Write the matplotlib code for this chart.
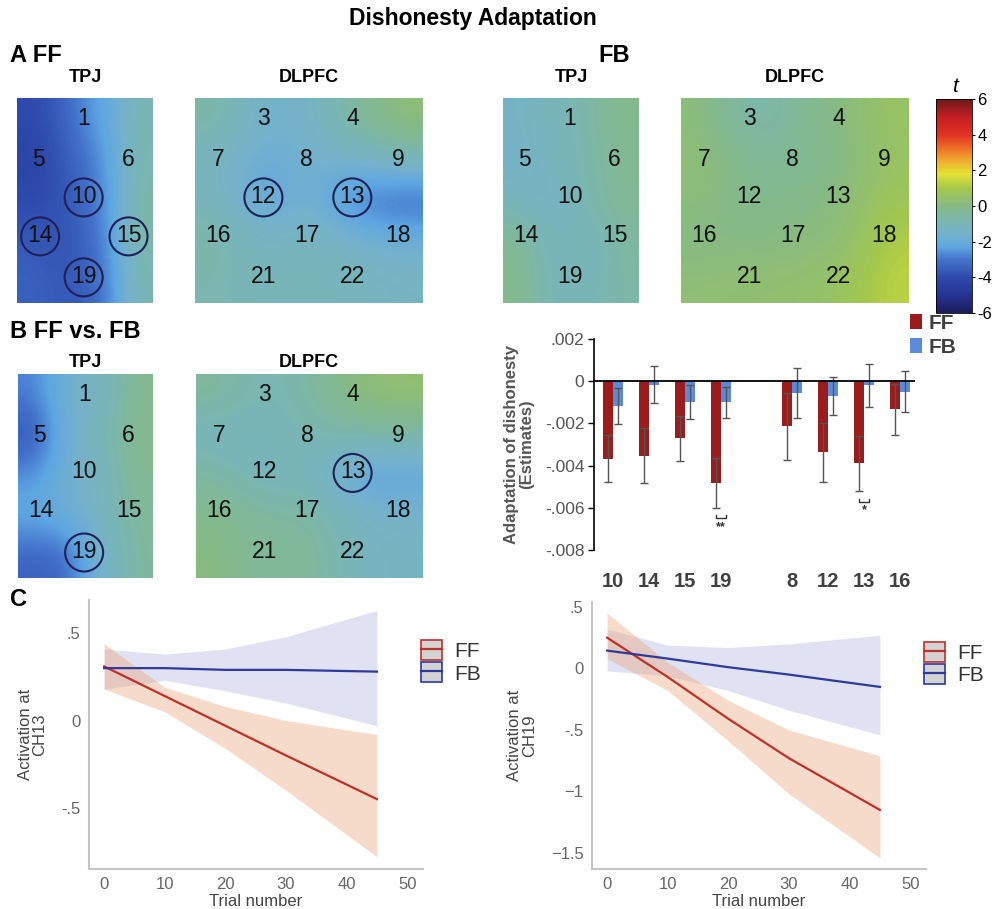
import numpy as np
import matplotlib
matplotlib.use("Agg")
import matplotlib.pyplot as plt
import matplotlib.colors as colors
from matplotlib.patches import Ellipse, Patch
from matplotlib.lines import Line2D

plt.rcParams['font.family'] = ['Liberation Sans', 'DejaVu Sans']

W, H = 994, 909

# t-maps, 5x5 grids (rows top->bottom, cols left->right)
ff_tpj = [[-4.0, -3.6, -2.6, -2.0, -0.9],
          [-4.3, -3.8, -3.1, -2.2, -0.8],
          [-4.0, -3.8, -3.3, -2.3, -0.6],
          [-3.6, -3.8, -3.4, -2.4, -0.6],
          [-3.4, -3.6, -3.6, -2.6, -0.9]]
ff_dlpfc = [[-0.6, -1.6, -1.5, -0.4, 0.3],
            [-1.2, -2.0, -1.6, -1.5, -0.9],
            [-1.0, -2.4, -1.5, -3.0, -3.4],
            [-0.6, -1.3, -1.0, -1.5, -1.7],
            [-0.8, -1.1, -1.0, -1.1, -1.3]]
fb_tpj = [[-1.4, -1.1, -0.9, -0.5, -0.1],
          [-1.5, -1.2, -1.0, -0.6, -0.2],
          [-1.1, -1.5, -1.1, -0.6, -0.3],
          [-0.2, -0.9, -1.1, -1.1, -0.5],
          [-0.1, -0.8, -1.1, -0.9, -0.6]]
fb_dlpfc = [[0.2, -0.9, -0.4, 0.1, 0.6],
            [0.3, -0.3, -0.3, -0.1, 0.6],
            [0.2, -0.2, -0.1, 0.1, 0.8],
            [0.0, 0.0, 0.1, 0.2, 1.2],
            [0.3, 0.4, 0.4, 0.6, 1.3]]
vs_tpj = [[-2.8, -1.9, -1.5, -0.9, -0.2],
          [-3.8, -2.1, -1.4, -0.7, -0.1],
          [-2.5, -1.9, -1.5, -0.9, -0.2],
          [-2.1, -1.9, -1.6, -1.0, -0.4],
          [-3.4, -3.4, -2.3, -1.2, -0.5]]
vs_dlpfc = [[-0.4, -1.0, -0.6, 0.2, 0.4],
            [-1.2, -1.1, -0.9, -0.7, -0.6],
            [-0.5, -1.3, -0.9, -2.4, -2.3],
            [-0.1, -0.4, -0.5, -1.2, -1.4],
            [0.1, -0.5, -0.2, -1.2, -1.3]]

tpj_channels = [1, 5, 6, 10, 14, 15, 19]
dlpfc_channels = [3, 4, 7, 8, 9, 12, 13, 16, 17, 18, 21, 22]

# bar chart
bar_labels = ['10', '14', '15', '19', '8', '12', '13', '16']
ff_est = [-0.00367, -0.00354, -0.00271, -0.00483, -0.00214, -0.00337, -0.0039, -0.00134]
ff_err = [0.0011, 0.0013, 0.00108, 0.0012, 0.0016, 0.0014, 0.0013, 0.0012]
fb_est = [-0.00118, -0.00016, -0.001, -0.001, -0.00055, -0.00068, -0.0002, -0.0005]
fb_err = [0.00084, 0.00088, 0.0008, 0.00074, 0.00118, 0.0009, 0.001, 0.00098]

# regression lines (panel C)
trial = [0, 10, 20, 30, 45]
ch13_ff = [0.31, 0.14, -0.03, -0.20, -0.45]
ch13_ff_hi = [0.44, 0.19, 0.08, 0.00, -0.08]
ch13_ff_lo = [0.18, 0.05, -0.16, -0.40, -0.78]
ch13_fb = [0.30, 0.30, 0.29, 0.29, 0.28]
ch13_fb_hi = [0.41, 0.38, 0.41, 0.48, 0.63]
ch13_fb_lo = [0.18, 0.23, 0.17, 0.10, -0.03]
ch19_ff = [0.25, -0.07, -0.41, -0.73, -1.15]
ch19_ff_hi = [0.45, 0.05, -0.26, -0.50, -0.71]
ch19_ff_lo = [0.08, -0.18, -0.59, -1.02, -1.54]
ch19_fb = [0.145, 0.08, 0.01, -0.05, -0.15]
ch19_fb_hi = [0.32, 0.19, 0.17, 0.20, 0.27]
ch19_fb_lo = [-0.02, -0.06, -0.18, -0.34, -0.54]

# colormap
cm_vals = [-6, -5, -4, -3, -2.3, -1.6, -0.9, 0, 1, 1.8, 2.5, 3.3, 4, 5, 6]
cm_cols = ['#1c1c5c', '#263494', '#2e4aac', '#4474cc', '#5ea6e2', '#74b2cc', '#7ab6b4',
           '#86ba86', '#a4c84c', '#e4e234', '#f0b030', '#ee6a26', '#e03224', '#c41e22', '#6e1a1a']
cmap = colors.LinearSegmentedColormap.from_list(
    'tmap', [((v + 6) / 12, c) for v, c in zip(cm_vals, cm_cols)])
norm = colors.Normalize(-6, 6)

fig = plt.figure(figsize=(W / 100, H / 100), dpi=100)


def px_axes(x0, y0, x1, y1):
    return fig.add_axes([x0 / W, 1 - y1 / H, (x1 - x0) / W, (y1 - y0) / H])


def ftext(x, y, s, **kw):
    fig.text(x / W, 1 - y / H, s, **kw)


tpj_pos = {1: (0.49, 0.10), 5: (0.16, 0.30), 6: (0.82, 0.30), 10: (0.49, 0.48),
           14: (0.17, 0.67), 15: (0.82, 0.67), 19: (0.49, 0.87)}
dx = [0.10, 0.30, 0.49, 0.69, 0.89]
dy = [0.10, 0.30, 0.48, 0.67, 0.87]
dl_pos = {3: (dx[1], dy[0]), 4: (dx[3], dy[0]), 7: (dx[0], dy[1]), 8: (dx[2], dy[1]),
          9: (dx[4], dy[1]), 12: (dx[1], dy[2]), 13: (dx[3], dy[2]), 16: (dx[0], dy[3]),
          17: (dx[2], dy[3]), 18: (dx[4], dy[3]), 21: (dx[1], dy[4]), 22: (dx[3], dy[4])}


def tmap(box, grid, chans, pos, circled):
    x0, y0, x1, y1 = box
    ax = px_axes(x0, y0, x1, y1)
    ax.imshow(np.array(grid), cmap=cmap, norm=norm, extent=(0, 1, 1, 0),
              aspect='auto', interpolation='bicubic')
    for ch in chans:
        x, y = pos[ch]
        ax.text(x, y, str(ch), ha='center', va='center', fontsize=16.5, color='#111111')
    r = 19
    for ch in circled:
        x, y = pos[ch]
        ax.add_patch(Ellipse((x, y + 0.005), 2 * r / (x1 - x0), 2 * r / (y1 - y0),
                             fill=False, ec='#202058', lw=1.5))
    ax.set_xlim(0, 1)
    ax.set_ylim(1, 0)
    ax.set_axis_off()
    return ax


# titles
ftext(473, 18, 'Dishonesty Adaptation', ha='center', va='center', fontsize=16.5, fontweight='bold')
ftext(10, 55, 'A FF', ha='left', va='center', fontsize=17, fontweight='bold')
ftext(598, 55, 'FB', ha='left', va='center', fontsize=17, fontweight='bold')
ftext(10, 332, 'B FF vs. FB', ha='left', va='center', fontsize=17, fontweight='bold')
ftext(10, 600, 'C', ha='left', va='center', fontsize=17, fontweight='bold')

for xc, yc, s in [(85, 78, 'TPJ'), (309, 78, 'DLPFC'), (571, 78, 'TPJ'), (795, 78, 'DLPFC'),
                  (85, 362, 'TPJ'), (309, 362, 'DLPFC')]:
    ftext(xc, yc, s, ha='center', va='center', fontsize=13, fontweight='bold')

tmap((17, 98, 153, 303), ff_tpj, tpj_channels, tpj_pos, [10, 14, 15, 19])
tmap((195, 98, 423, 303), ff_dlpfc, dlpfc_channels, dl_pos, [12, 13])
tmap((503, 98, 639, 303), fb_tpj, tpj_channels, tpj_pos, [])
tmap((681, 98, 909, 303), fb_dlpfc, dlpfc_channels, dl_pos, [])
tmap((18, 374, 153, 578), vs_tpj, tpj_channels, tpj_pos, [19])
tmap((196, 374, 423, 578), vs_dlpfc, dlpfc_channels, dl_pos, [13])

# colorbar
cax = px_axes(936, 99, 972, 313)
cb = fig.colorbar(plt.cm.ScalarMappable(norm=norm, cmap=cmap), cax=cax, ticks=[-6, -4, -2, 0, 2, 4, 6])
cb.outline.set_linewidth(0.6)
cax.set_yticklabels(['-6', '-4', '-2', '0', '2', '4', '6'])
cax.tick_params(labelsize=12, length=2, width=0.8, pad=2)
ftext(955, 86, 't', ha='center', va='center', fontsize=15, style='italic')

# bar chart
bx = px_axes(594, 339, 915, 550)
xpos = np.array([0, 1, 2, 3, 5, 6, 7, 8])
bw = 0.28
bx.bar(xpos - bw / 2, ff_est, bw, color='#9b1c1c', label='FF', zorder=2)
bx.bar(xpos + bw / 2, fb_est, bw, color='#5b8ad8', label='FB', zorder=2)
bx.errorbar(xpos - bw / 2, ff_est, yerr=ff_err, fmt='none', ecolor='#555555', elinewidth=1, capsize=3, zorder=3)
bx.errorbar(xpos + bw / 2, fb_est, yerr=fb_err, fmt='none', ecolor='#555555', elinewidth=1, capsize=3, zorder=3)
bx.axhline(0, color='black', lw=1.3, zorder=4)
bx.set_ylim(-0.008, 0.002)
bx.set_xlim(-0.53, 8.42)
bx.set_yticks([0.002, 0, -0.002, -0.004, -0.006, -0.008])
bx.set_yticklabels(['.002', '0', '-.002', '-.004', '-.006', '-.008'], fontsize=12.5, color='#555555')
bx.set_xticks(xpos)
bx.set_xticklabels(bar_labels, fontsize=14.5, fontweight='bold', color='#404040')
bx.tick_params(axis='x', length=0, pad=16)
bx.tick_params(axis='y', length=4, width=1, pad=3)
for s in ['top', 'right', 'bottom']:
    bx.spines[s].set_visible(False)
bx.spines['left'].set_linewidth(1.2)
bx.set_ylabel('Adaptation of dishonesty\n(Estimates)', fontsize=12, fontweight='bold',
              color='#555555', linespacing=1.0, labelpad=8)
# significance brackets
brackets = [(3, -0.00636, -0.0065, -0.0069, '**'), (7, -0.00558, -0.00572, -0.0061, '*')]
for xi, ytop, ybot, ystar, stars in brackets:
    bx.plot([xi - 0.14, xi - 0.14, xi + 0.14, xi + 0.14], [ytop, ybot, ybot, ytop],
            color='#333333', lw=1)
    bx.text(xi, ystar, stars, ha='center', va='center', fontsize=9, fontweight='bold', color='#333333')
leg = bx.legend(loc='upper left', bbox_to_anchor=(0.984, 1.12), frameon=False,
                handlelength=0.6, handleheight=0.7, handletextpad=0.3, labelspacing=0.25,
                borderaxespad=0, borderpad=0, prop={'weight': 'bold', 'size': 15})
for t in leg.get_texts():
    t.set_color('#404040')


def lineplot(box, xs, ff, ff_lo, ff_hi, fb, fb_lo, fb_hi, ylim, yticks, yticklabels, ylabel):
    ax = px_axes(*box)
    ax.fill_between(xs, fb_lo, fb_hi, color='#b3b8e3', alpha=0.4, lw=0)
    ax.fill_between(xs, ff_lo, ff_hi, color='#e8a274', alpha=0.38, lw=0)
    ax.plot(xs, ff, color='#c0302a', lw=1.6)
    ax.plot(xs, fb, color='#2e3a9c', lw=1.6)
    ax.set_xlim(-2.5, 52.6)
    ax.set_ylim(*ylim)
    ax.set_xticks([0, 10, 20, 30, 40, 50])
    ax.set_yticks(yticks)
    ax.set_yticklabels(yticklabels)
    ax.tick_params(labelsize=12, colors='#666666', length=0, pad=6)
    for s in ['top', 'right']:
        ax.spines[s].set_visible(False)
    for s in ['left', 'bottom']:
        ax.spines[s].set_color('#c4c4c4')
        ax.spines[s].set_linewidth(1.5)
    ax.set_xlabel('Trial number', fontsize=12, color='#444444', labelpad=1)
    ax.set_ylabel(ylabel, fontsize=12, color='#444444', linespacing=1.0, labelpad=10)
    h_ff = (Patch(facecolor='#d3d3d3', edgecolor='#c0302a', lw=1.2), Line2D([], [], color='#c0302a', lw=1.6))
    h_fb = (Patch(facecolor='#d3d3d3', edgecolor='#2e3a9c', lw=1.2), Line2D([], [], color='#2e3a9c', lw=1.6))
    leg = ax.legend([h_ff, h_fb], ['FF', 'FB'], loc='upper left', bbox_to_anchor=(0.995, 0.85),
                    frameon=False, fontsize=15, handlelength=1.0, handleheight=1.1,
                    handletextpad=0.6, labelspacing=0.05, borderaxespad=0, borderpad=0)
    for t in leg.get_texts():
        t.set_color('#333333')
    return ax


lineplot((89, 600, 423, 869), trial, ch13_ff, ch13_ff_lo, ch13_ff_hi, ch13_fb, ch13_fb_lo, ch13_fb_hi,
         (-0.85, 0.69), [0.5, 0, -0.5], ['.5', '0', '-.5'], 'Activation at\nCH13')
lineplot((592, 602, 926, 869), trial, ch19_ff, ch19_ff_lo, ch19_ff_hi, ch19_fb, ch19_fb_lo, ch19_fb_hi,
         (-1.63, 0.54), [0.5, 0, -0.5, -1, -1.5], ['.5', '0', '-.5', '\u22121', '\u22121.5'], 'Activation at\nCH19')

fig.savefig('out.png', dpi=100)
